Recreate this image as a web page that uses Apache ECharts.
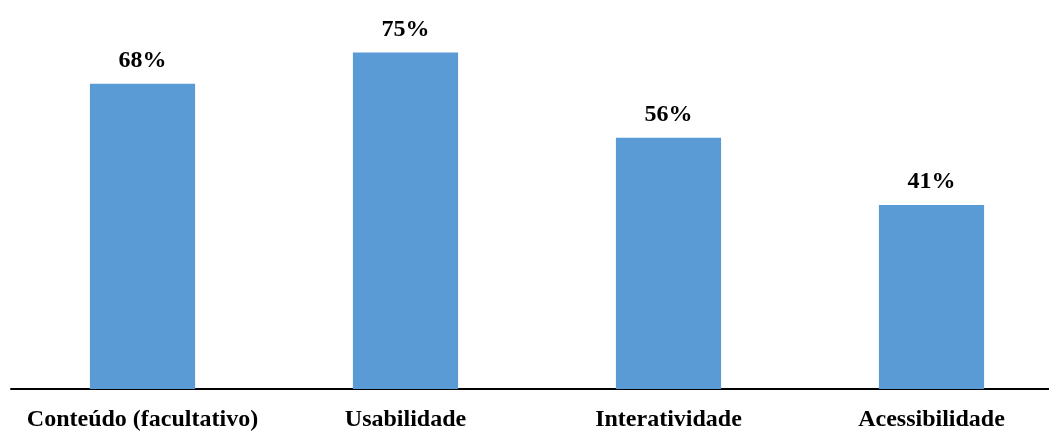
<!DOCTYPE html>
<html>
<head>
<meta charset="utf-8">
<script src="https://cdn.jsdelivr.net/npm/echarts@6/dist/echarts.min.js"></script>
<style>
  html, body { margin: 0; padding: 0; background: #ffffff; overflow: hidden; }
  /* the drawing surface runs slightly past the right edge of the page */
  #chart { width: 1063px; height: 432px; }
</style>
</head>
<body>
<div id="chart"></div>
<script>
// Share of respondents per evaluated aspect (%)
const categories = ['Conteúdo (facultativo)', 'Usabilidade', 'Interatividade', 'Acessibilidade'];
const values = [68, 75, 56, 41];

const chart = echarts.init(document.getElementById('chart'), null, { renderer: 'canvas' });

chart.setOption({
  animation: false,
  backgroundColor: '#ffffff',
  grid: { left: 11, right: 0, top: 30, bottom: 39, containLabel: false },
  xAxis: {
    type: 'category',
    data: categories,
    axisLine: { show: true, lineStyle: { color: '#000000', width: 2 } },
    axisTick: { show: false },
    axisLabel: {
      interval: 0,
      margin: 19,
      color: '#000000',
      fontFamily: '"Liberation Serif", "Times New Roman", serif',
      fontWeight: 'bold',
      fontSize: 24
    }
  },
  yAxis: {
    type: 'value',
    min: 0,
    max: 80,
    show: false,
    splitLine: { show: false }
  },
  series: [{
    type: 'bar',
    data: values,
    barWidth: '40%',
    itemStyle: { color: '#5B9BD5' },
    label: {
      show: true,
      position: 'top',
      distance: 11,
      formatter: '{c}%',
      color: '#000000',
      fontFamily: '"Liberation Serif", "Times New Roman", serif',
      fontWeight: 'bold',
      fontSize: 24
    }
  }]
});
</script>
</body>
</html>
